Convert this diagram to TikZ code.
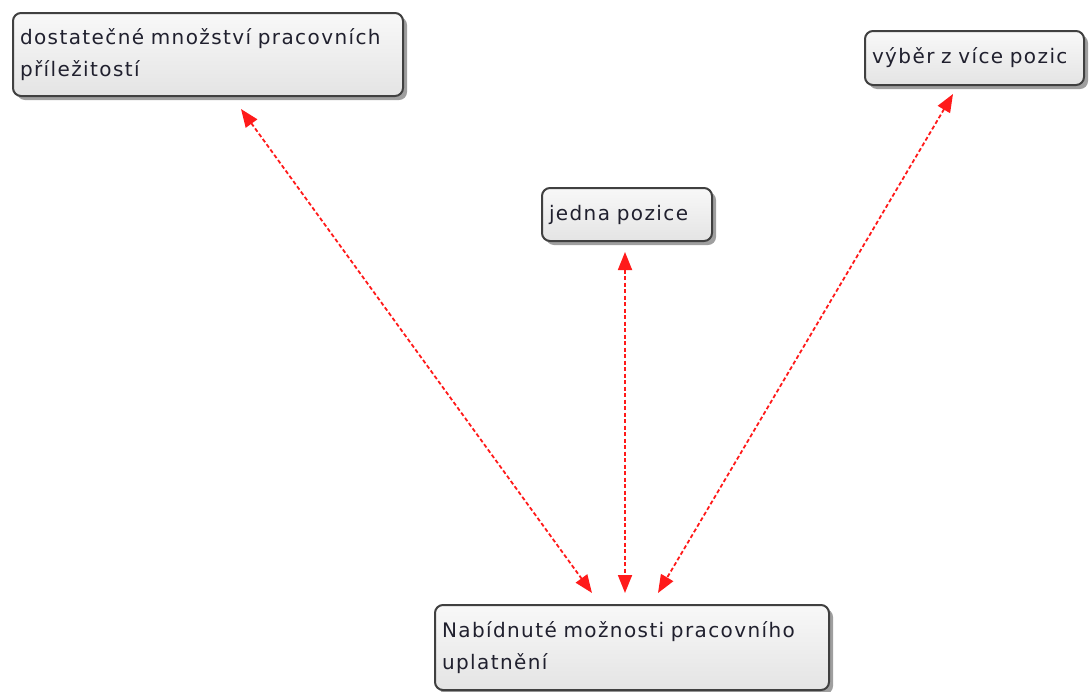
\documentclass[tikz,border=0pt]{standalone}
\usepackage{fontspec}
\setmainfont[LetterSpace=7,WordSpace=1.6]{DejaVu Sans}
\usetikzlibrary{arrows.meta,calc,shadows}
\definecolor{boxline}{HTML}{404040}
\definecolor{boxtop}{HTML}{F8F8F8}
\definecolor{boxbottom}{HTML}{E4E4E4}
\definecolor{txt}{HTML}{20202E}
\definecolor{arrowred}{HTML}{FF1A1A}
\tikzset{
  topic/.style={draw=boxline, line width=2pt, rounded corners=8pt,
    top color=boxtop, bottom color=boxbottom,
    drop shadow={shadow xshift=4pt, shadow yshift=-4pt, opacity=0.5, fill=black!75},
    anchor=north west, inner xsep=7pt, inner ysep=0pt,
    align=left, text=txt,
    font=\fontsize{20pt}{32pt}\selectfont},
  link/.style={draw=arrowred, line width=1.8pt, dash pattern=on 4pt off 2.5pt,
    {Triangle[length=18pt,width=14pt]}-{Triangle[length=18pt,width=14pt]}}
}
\begin{document}
\begin{tikzpicture}[x=1pt,y=-1pt]
  \useasboundingbox (0,0) rectangle (1091,691);

  \node[topic, minimum width=390pt, minimum height=83pt, text width=376pt] (jobs) at (12,12)
    {dostatečné množství pracovních\\příležitostí};
  \node[topic, minimum width=219pt, minimum height=54pt, text width=205pt] (choice) at (864,30)
    {výběr z více pozic};
  \node[topic, minimum width=170pt, minimum height=53pt, text width=156pt] (single) at (541,187)
    {jedna pozice};
  \node[topic, minimum width=394pt, minimum height=85pt, text width=380pt] (offers) at (434,604)
    {Nabídnuté možnosti pracovního\\uplatnění};

  \draw[link] ($(jobs.south west)+(229,12)$) -- ($(offers.north west)+(158,-11)$);
  \draw[link] ($(single.south west)+(84,10)$) -- ($(offers.north west)+(191,-11)$);
  \draw[link] ($(choice.south west)+(89,8)$) -- ($(offers.north west)+(224,-11)$);
\end{tikzpicture}
\end{document}
